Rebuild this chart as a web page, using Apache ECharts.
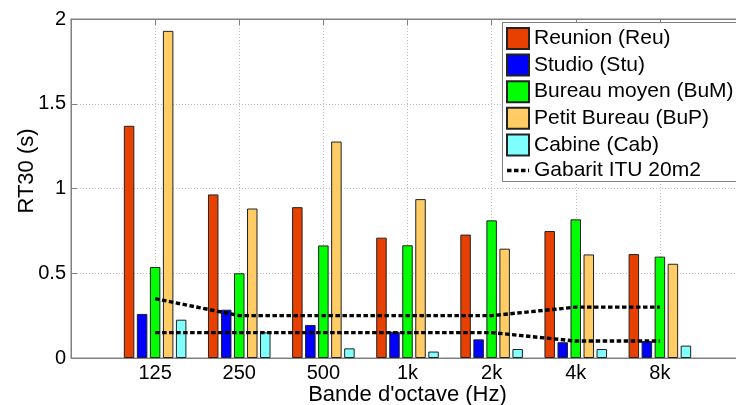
<!DOCTYPE html>
<html>
<head>
<meta charset="utf-8">
<script src="https://cdn.jsdelivr.net/npm/echarts@6/dist/echarts.min.js"></script>
<style>
html,body{margin:0;padding:0;background:#fff;overflow:hidden;}
#chart{width:736px;height:405px;}
</style>
</head>
<body>
<div id="chart"></div>
<script>
var categories = ['125', '250', '500', '1k', '2k', '4k', '8k'];
var reunion = [1.37, 0.965, 0.89, 0.71, 0.728, 0.749, 0.613];
var studio = [0.26, 0.285, 0.195, 0.155, 0.11, 0.093, 0.10];
var bureauMoyen = [0.537, 0.50, 0.664, 0.665, 0.812, 0.818, 0.598];
var petitBureau = [1.93, 0.882, 1.277, 0.9375, 0.645, 0.611, 0.556];
var cabine = [0.226, 0.151, 0.057, 0.038, 0.053, 0.053, 0.073];
var ituUpper = [0.35, 0.25, 0.25, 0.25, 0.25, 0.3, 0.3];
var ituLower = [0.15, 0.15, 0.15, 0.15, 0.15, 0.1, 0.1];
var yTicks = [0, 0.5, 1, 1.5, 2];

var FONT = "'Liberation Sans', Arial, sans-serif";
function pad(arr) { return ['-'].concat(arr).concat(['-']); }
var axisCats = [''].concat(categories).concat(['']);
function inner(i) { return i >= 1 && i <= categories.length; }

var barNames = ['Reunion (Reu)', 'Studio (Stu)', 'Bureau moyen (BuM)', 'Petit Bureau (BuP)', 'Cabine (Cab)'];
var barData = [reunion, studio, bureauMoyen, petitBureau, cabine];
var barColors = ['#E84000', '#0000FF', '#00FF00', '#FFCC66', '#80FFFF'];
var lineName = 'Gabarit ITU 20m2';

var series = barNames.map(function (n, k) {
  return {
    name: n, type: 'bar', data: pad(barData[k]),
    barWidth: 10.5, barGap: '24%',
    itemStyle: { color: barColors[k], borderColor: '#222', borderWidth: 1 },
    z: 2
  };
});
[ituUpper, ituLower].forEach(function (d) {
  series.push({
    name: lineName, type: 'line', data: pad(d), symbol: 'none',
    lineStyle: { color: '#000', width: 3.4, type: [4.5, 2.5], cap: 'butt' },
    itemStyle: { color: '#000' },
    z: 3, silent: true, animation: false
  });
});

var chart = echarts.init(document.getElementById('chart'), null, { renderer: 'canvas' });
chart.setOption({
  animation: false,
  backgroundColor: '#fff',
  textStyle: { fontFamily: FONT },
  grid: { left: 71, top: 19, bottom: 47, right: -8, outerBoundsMode: 'none', containLabel: false, show: true, borderColor: '#808080', borderWidth: 1, backgroundColor: 'transparent' },
  legend: {
    orient: 'vertical', left: 502, top: 23,
    padding: [4, 4, 2, 4],
    itemWidth: 22, itemHeight: 21, itemGap: 3.6,
    backgroundColor: 'transparent', borderWidth: 0,
    z: 6,
    textStyle: { fontSize: 21, fontFamily: FONT, color: '#000' },
    data: barNames.map(function (n) { return { name: n, icon: 'rect' }; }).concat([{
      name: lineName,
      icon: 'path://M0,0h4.5v3.4h-4.5zM7,0h4.5v3.4h-4.5zM14,0h4.5v3.4h-4.5zM21,0h1v3.4h-1z',
      itemStyle: { color: '#000', borderWidth: 0 }
    }])
  },
  xAxis: [{
    type: 'category', data: axisCats, boundaryGap: false,
    axisLine: { lineStyle: { color: '#808080', width: 1 } },
    axisTick: { inside: true, length: 6, interval: function (i) { return inner(i); }, lineStyle: { color: '#808080' } },
    axisLabel: { fontSize: 20, fontFamily: FONT, color: '#000', margin: 5, interval: 0 },
    splitLine: { show: true, interval: function (i) { return inner(i); }, lineStyle: { color: '#bdbdbd', type: [1, 2] } },
    name: "Bande d'octave (Hz)", nameLocation: 'middle', nameGap: 25.5, nameMoveOverlap: false,
    nameTextStyle: { fontSize: 22, fontFamily: FONT, color: '#000' }
  }, {
    type: 'category', data: axisCats, boundaryGap: false, position: 'top',
    axisLine: { show: true, lineStyle: { color: '#808080' } },
    axisTick: { inside: true, length: 6, interval: function (i) { return inner(i); }, lineStyle: { color: '#808080' } },
    axisLabel: { show: false }, splitLine: { show: false }
  }],
  yAxis: {
    type: 'value', min: yTicks[0], max: yTicks[yTicks.length - 1], interval: 0.5,
    axisLine: { show: true, lineStyle: { color: '#808080' } },
    axisTick: { show: true, inside: true, length: 6, lineStyle: { color: '#808080' } },
    axisLabel: { fontSize: 20, fontFamily: FONT, color: '#000', margin: 5, formatter: function (v) { return String(v); } },
    splitLine: { show: true, lineStyle: { color: '#bdbdbd', type: [1, 2] } }
  },
  graphic: [{
    type: 'rect', z: 5, silent: true,
    shape: { x: 502.5, y: 22.5, width: 260, height: 159 },
    style: { fill: '#fff', stroke: '#808080', lineWidth: 1 }
  }, {
    type: 'text', x: 27, y: 171, rotation: Math.PI / 2,
    style: { text: 'RT30 (s)', font: '22px ' + FONT, fill: '#000', textAlign: 'center', textVerticalAlign: 'middle' }
  }],
  series: series
});
</script>
</body>
</html>
